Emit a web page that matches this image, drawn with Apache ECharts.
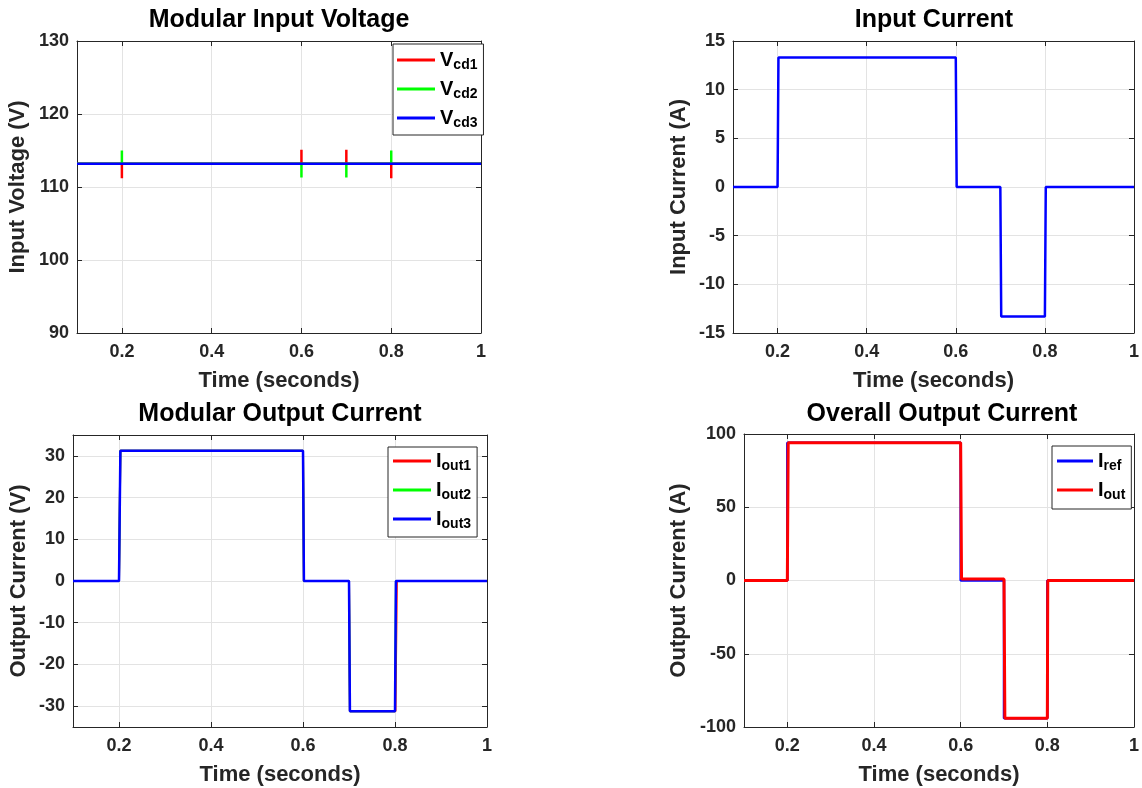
<!DOCTYPE html>
<html>
<head>
<meta charset="utf-8">
<script src="https://cdn.jsdelivr.net/npm/echarts@6.0.0/dist/echarts.min.js"></script>
<style>
  html, body { margin: 0; padding: 0; background: #fff; }
  #chart { width: 1142px; height: 788px; }
</style>
</head>
<body>
<div id="chart"></div>
<script>
// ---- data ----
const timeTicks = [0.2, 0.4, 0.6, 0.8, 1];

// Modular Input Voltage
const vinTicks = [90, 100, 110, 120, 130];
const tVcd = [0.1, 0.2, 0.2, 0.2, 0.6, 0.6, 0.6, 0.7, 0.7, 0.7, 0.8, 0.8, 0.8, 1];
const vcd1 = [113.2, 113.2, 111.2, 113.2, 113.2, 115.1, 113.2, 113.2, 115.1, 113.2, 113.2, 111.2, 113.2, 113.2];
const vcd2 = [113.2, 113.2, 115.0, 113.2, 113.2, 111.3, 113.2, 113.2, 111.3, 113.2, 113.2, 115.0, 113.2, 113.2];
const vcd3 = [113.2, 113.2, 113.2, 113.2, 113.2, 113.2, 113.2, 113.2, 113.2, 113.2, 113.2, 113.2, 113.2, 113.2];

// Input Current
const iinTicks = [-15, -10, -5, 0, 5, 10, 15];
const tIin = [0.1, 0.2, 0.202, 0.6, 0.602, 0.7, 0.702, 0.8, 0.802, 1];
const iin = [0, 0, 13.3, 13.3, 0, 0, -13.3, -13.3, 0, 0];

// Modular Output Current
const ioutTicks = [-30, -20, -10, 0, 10, 20, 30];
const tOut1 = [0.1, 0.2, 0.203, 0.6, 0.602, 0.7, 0.702, 0.801, 0.804, 1];
const tOut = [0.1, 0.2, 0.203, 0.6, 0.602, 0.7, 0.702, 0.8, 0.802, 1];
const iout1 = [0, 0, 31.2, 31.2, 0, 0, -31.2, -31.2, 0, 0];
const iout2 = [0, 0, 31.2, 31.2, 0, 0, -31.2, -31.2, 0, 0];
const iout3 = [0, 0, 31.2, 31.2, 0, 0, -31.2, -31.2, 0, 0];

// Overall Output Current
const itotTicks = [-100, -50, 0, 50, 100];
const tRef = [0.1, 0.2, 0.2, 0.6, 0.6, 0.7, 0.7, 0.8, 0.8, 1];
const iref = [0, 0, 94, 94, 0, 0, -94, -94, 0, 0];
const tTot = [0.1, 0.2, 0.202, 0.6, 0.602, 0.7, 0.702, 0.8, 0.801, 1];
const itot = [0, 0, 94, 94, 1, 1, -94, -94, 0, 0];

const FONT = "'Liberation Sans', Arial, Helvetica, sans-serif";
const INK = '#262626';
const GRIDLINE = '#e3e3e3';

const zip = (xs, ys) => xs.map((x, i) => [x, ys[i]]);

// plot boxes, in pixels
const boxes = [
  {left: 77, top: 41, width: 404, height: 292},
  {left: 733, top: 41, width: 403, height: 292},
  {left: 73, top: 435, width: 414, height: 292},
  {left: 744, top: 434, width: 396, height: 293},
];

const tickFont = {fontFamily: FONT, fontWeight: 'bold', fontSize: 18, color: INK};
const nameFont = {fontFamily: FONT, fontWeight: 'bold', fontSize: 22, color: INK};

// bottom + top x axes for one plot
const xAxesFor = (gi) => [
  {
    type: 'value', gridIndex: gi, position: 'bottom', min: 0.1, max: 1,
    name: 'Time (seconds)', nameLocation: 'middle', nameGap: 37, nameTextStyle: nameFont,
    axisLine: {show: true, onZero: false, lineStyle: {color: INK, width: 1}},
    axisTick: {show: true, inside: true, length: 5, customValues: timeTicks, lineStyle: {color: INK}},
    axisLabel: {customValues: timeTicks, margin: 10, ...tickFont, formatter: v => String(v)},
    splitLine: {show: true, lineStyle: {color: GRIDLINE, width: 1}},
  },
  {
    type: 'value', gridIndex: gi, position: 'top', min: 0.1, max: 1,
    axisLine: {show: true, onZero: false, lineStyle: {color: INK, width: 1}},
    axisTick: {show: true, inside: true, length: 5, customValues: timeTicks, lineStyle: {color: INK}},
    axisLabel: {show: false},
    splitLine: {show: false},
  },
];

// left + right y axes for one plot
const yAxesFor = (gi, name, min, max, ticks, gap) => [
  {
    type: 'value', gridIndex: gi, position: 'left', min, max,
    name, nameLocation: 'middle', nameGap: gap, nameTextStyle: nameFont,
    axisLine: {show: true, onZero: false, lineStyle: {color: INK, width: 1}},
    axisTick: {show: true, inside: true, length: 5, customValues: ticks, lineStyle: {color: INK}},
    axisLabel: {customValues: ticks, margin: 8, ...tickFont},
    splitLine: {show: true, lineStyle: {color: GRIDLINE, width: 1}},
  },
  {
    type: 'value', gridIndex: gi, position: 'right', min, max,
    axisLine: {show: true, onZero: false, lineStyle: {color: INK, width: 1}},
    axisTick: {show: true, inside: true, length: 5, customValues: ticks, lineStyle: {color: INK}},
    axisLabel: {show: false},
    splitLine: {show: false},
  },
];

const makeSeries = (name, gi, xs, ys, color, width) => ({
  name,
  type: 'line',
  xAxisIndex: gi * 2,
  yAxisIndex: gi * 2,
  data: zip(xs, ys),
  symbol: 'none',
  silent: true,
  animation: false,
  lineStyle: {color, width},
  itemStyle: {color},
});

// "Vcd1" -> V with subscript cd1
const subLabel = (name) => `{m|${name[0]}}{s|${name.slice(1)}}`;
const legendRich = {
  m: {fontFamily: FONT, fontWeight: 'bold', fontSize: 20, color: '#000', lineHeight: 24, verticalAlign: 'middle'},
  s: {fontFamily: FONT, fontWeight: 'bold', fontSize: 14, color: '#000', lineHeight: 2, verticalAlign: 'bottom'},
};
// plain thin bar as the legend key, like a line sample
const makeLegend = (names, left, top, padding, itemWidth, keyHeight) => ({
  orient: 'vertical',
  left, top, padding,
  icon: 'rect',
  itemWidth, itemHeight: keyHeight, itemGap: 7,
  borderColor: INK, borderWidth: 1, backgroundColor: '#fff',
  selectedMode: false,
  data: names,
  formatter: subLabel,
  textStyle: {rich: legendRich},
});

const makeTitle = (text, left, top) => ({
  text, left, top, padding: 0,
  textAlign: 'center', textVerticalAlign: 'top',
  textStyle: {fontFamily: FONT, fontWeight: 'bold', fontSize: 25, color: '#000'},
});

const chart = echarts.init(document.getElementById('chart'), null, {renderer: 'canvas'});

chart.setOption({
  backgroundColor: '#fff',
  animation: false,
  title: [
    makeTitle('Modular Input Voltage', 279, 8),
    makeTitle('Input Current', 934, 8),
    makeTitle('Modular Output Current', 280, 402),
    makeTitle('Overall Output Current', 942, 402),
  ],
  legend: [
    makeLegend(['Vcd1', 'Vcd2', 'Vcd3'], 393, 44, [6, 6, 5, 4], 38, 3),
    makeLegend(['Iout1', 'Iout2', 'Iout3'], 388, 447, [4, 6, 6, 5], 38, 3),
    makeLegend(['Iref', 'Iout'], 1052, 446, [5, 6, 7, 5], 36, 3),
  ],
  grid: boxes.map(b => ({...b, containLabel: false})),
  xAxis: [...xAxesFor(0), ...xAxesFor(1), ...xAxesFor(2), ...xAxesFor(3)],
  yAxis: [
    ...yAxesFor(0, 'Input Voltage (V)', 90, 130, vinTicks, 48),
    ...yAxesFor(1, 'Input Current (A)', -15, 15, iinTicks, 43),
    ...yAxesFor(2, 'Output Current (V)', -35, 35, ioutTicks, 43),
    ...yAxesFor(3, 'Output Current (A)', -100, 100, itotTicks, 54),
  ],
  series: [
    makeSeries('Vcd1', 0, tVcd, vcd1, '#ff0000', 2.5),
    makeSeries('Vcd2', 0, tVcd, vcd2, '#00ff00', 2.5),
    makeSeries('Vcd3', 0, tVcd, vcd3, '#0000ff', 2.5),
    makeSeries('Iin', 1, tIin, iin, '#0000ff', 2.5),
    makeSeries('Iout1', 2, tOut1, iout1, '#ff0000', 2),
    makeSeries('Iout2', 2, tOut, iout2, '#00ff00', 2),
    makeSeries('Iout3', 2, tOut, iout3, '#0000ff', 2.5),
    makeSeries('Iref', 3, tRef, iref, '#0000ff', 2.5),
    makeSeries('Iout', 3, tTot, itot, '#ff0000', 3),
  ],
});
</script>
</body>
</html>
